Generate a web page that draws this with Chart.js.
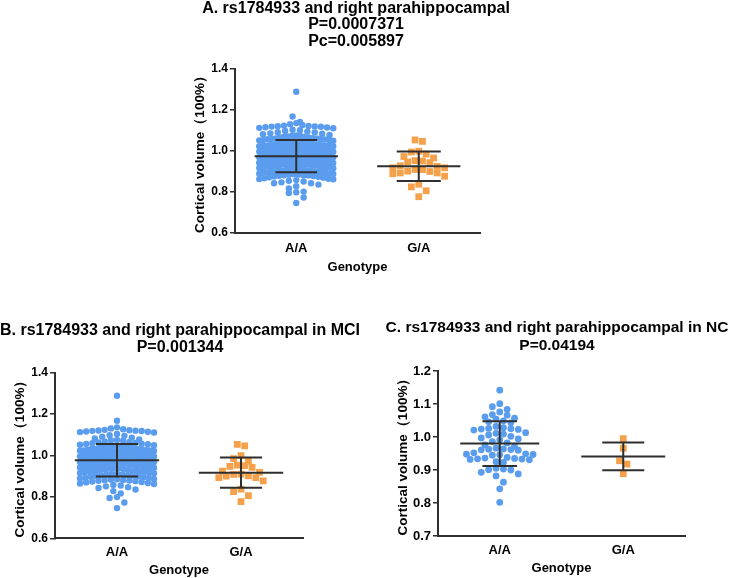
<!DOCTYPE html>
<html>
<head>
<meta charset="utf-8">
<script src="https://cdn.jsdelivr.net/npm/chart.js@4.4.0/dist/chart.umd.min.js"></script>
<style>
	body { margin: 0; background: #fff; }
	#wrap { position: relative; width: 731px; height: 578px; overflow: hidden; background: #fff; }
	#wrap canvas { position: absolute; }
</style>
</head>
<body>
<div id="wrap">
	<canvas id="chartA" width="352" height="280" style="left:180px; top:0px;"></canvas>
	<canvas id="chartB" width="360" height="268" style="left:0px; top:310px;"></canvas>
	<canvas id="chartC" width="348" height="268" style="left:383px; top:310px;"></canvas>
</div>
<script>
var genotypes = ['A/A', 'G/A'];

// B. MCI subjects
var mciAA = [
	1.289, 1.168, 1.136, 1.131, 1.127,
	1.124, 1.122, 1.121, 1.12, 1.119, 1.118, 1.116, 1.115, 1.113, 1.111,
	1.104, 1.098, 1.095, 1.091, 1.086, 1.082,
	1.078, 1.075, 1.074, 1.071, 1.068, 1.066, 1.063, 1.061,
	1.059, 1.057, 1.056, 1.054, 1.052, 1.05, 1.048, 1.047, 1.045, 1.043, 1.042, 1.041,
	1.039, 1.038, 1.036, 1.035, 1.034, 1.032, 1.031, 1.03, 1.028, 1.027, 1.026, 1.025, 1.024, 1.023, 1.022, 1.021,
	1.019, 1.018, 1.017, 1.016, 1.015, 1.014, 1.012, 1.011, 1.01, 1.009, 1.008, 1.006, 1.005, 1.004, 1.003, 1.002, 1.001,
	0.999, 0.998, 0.997, 0.996, 0.995, 0.994, 0.992, 0.991, 0.99, 0.989, 0.988, 0.987, 0.986, 0.985, 0.984, 0.982, 0.981,
	0.979, 0.978, 0.977, 0.976, 0.975, 0.974, 0.973, 0.972, 0.97, 0.969, 0.968, 0.967, 0.966, 0.965, 0.963, 0.962, 0.961,
	0.959, 0.958, 0.957, 0.956, 0.954, 0.953, 0.952, 0.951, 0.949, 0.948, 0.947, 0.946, 0.944, 0.943, 0.942, 0.941,
	0.939, 0.938, 0.936, 0.935, 0.934, 0.932, 0.931, 0.929, 0.928, 0.926, 0.925, 0.923, 0.922, 0.921,
	0.919, 0.917, 0.916, 0.914, 0.912, 0.911, 0.909, 0.907, 0.906, 0.904, 0.903, 0.901,
	0.899, 0.897, 0.895, 0.893, 0.891, 0.889, 0.887, 0.885, 0.884, 0.882, 0.881,
	0.879, 0.878, 0.876, 0.874, 0.872, 0.87, 0.867, 0.865, 0.862,
	0.858, 0.855, 0.851, 0.847, 0.843,
	0.836, 0.828, 0.817, 0.799, 0.795, 0.773, 0.746
];
var mciGA = [
	1.054, 1.047, 0.999, 0.985, 0.973, 0.953, 0.951, 0.947, 0.943, 0.925, 0.918,
	0.91, 0.909, 0.902, 0.9, 0.893, 0.893, 0.877, 0.838, 0.825, 0.806, 0.777
];
var mciMean = [0.977, 0.917];
var mciSD = [0.079, 0.073];

// C. NC subjects
var ncAA = [
	1.142, 1.101, 1.092, 1.084, 1.076,
	1.068, 1.066, 1.061, 1.057, 1.054, 1.049, 1.046, 1.043,
	1.032, 1.028, 1.026, 1.025, 1.024, 1.023, 1.021,
	1.013, 1.011, 1.009, 1.006, 1.002, 0.997, 0.994, 0.991, 0.986, 0.982,
	0.976, 0.972, 0.966, 0.964, 0.963, 0.962, 0.961, 0.96,
	0.952, 0.949, 0.948, 0.947, 0.946, 0.945,
	0.938, 0.936, 0.935, 0.934, 0.933, 0.932, 0.931, 0.925, 0.923,
	0.905, 0.903, 0.901, 0.9, 0.893, 0.888, 0.882, 0.863, 0.843, 0.802
];
var ncGA = [0.995, 0.966, 0.928, 0.918, 0.889];
var ncMean = [0.980, 0.941];
var ncSD = [0.068, 0.042];

// A. all subjects (MCI + NC)
var allAA = mciAA.concat(ncAA);
var allGA = mciGA.concat(ncGA);
var allMean = [0.975, 0.926];
var allSD = [0.079, 0.072];

var ticksAB = [0.6, 0.8, 1.0, 1.2, 1.4];
var ticksC = [0.7, 0.8, 0.9, 1.0, 1.1, 1.2];

var FONT = "'Liberation Sans', Arial, sans-serif";
var BLUE = '#5a9cee';
var ORANGE = '#f5a14b';
var LINE = '#2f2f2f';

// mean +/- SD bars drawn over the dots
var errorBars = {
	id: 'errorBars',
	afterDatasetsDraw: function (chart, args, opts) {
		var ctx = chart.ctx, xs = chart.scales.x, ys = chart.scales.y;
		ctx.save();
		ctx.strokeStyle = LINE;
		ctx.lineWidth = 2;
		for (var i = 0; i < opts.means.length; i++) {
			var m = opts.means[i], sd = opts.sds[i];
			var cx = xs.getPixelForValue(i);
			var mw = xs.getPixelForValue(i + opts.meanHalf[i]) - cx;
			var cw = xs.getPixelForValue(i + opts.capHalf[i]) - cx;
			var ym = ys.getPixelForValue(m), yt = ys.getPixelForValue(m + sd), yb = ys.getPixelForValue(m - sd);
			ctx.beginPath();
			ctx.moveTo(cx - mw, ym); ctx.lineTo(cx + mw, ym);
			ctx.moveTo(cx - cw, yt); ctx.lineTo(cx + cw, yt);
			ctx.moveTo(cx - cw, yb); ctx.lineTo(cx + cw, yb);
			ctx.moveTo(cx, yt); ctx.lineTo(cx, yb);
			ctx.stroke();
		}
		ctx.restore();
	}
};

var panel = {
	startUp: function () {
		panel.build('chartA', {
			title: ['A. rs1784933 and right parahippocampal', 'P=0.0007371', 'Pc=0.005897'],
			titleSize: 16, titleLH: '16.5px', titleTop: 0, titleBottom: 19.5,
			aa: allAA, ga: allGA, mean: allMean, sd: allSD,
			meanHalf: [0.34, 0.34], capHalf: [0.17, 0.18],
			min: 0.6, max: 1.4, yTicks: ticksAB, yTickSize: 12,
			padRight: 52, xHeight: 47, xTickPad: 8, xTitlePad: 5, dot: 3.2,
			rows: [5.5, 7.5]
		});
		panel.build('chartB', {
			title: ['B. rs1784933 and right parahippocampal in MCI', 'P=0.001344'],
			titleSize: 16, titleLH: '16.7px', titleTop: 12.6, titleBottom: 16.7,
			aa: mciAA, ga: mciGA, mean: mciMean, sd: mciSD,
			meanHalf: [0.34, 0.34], capHalf: [0.17, 0.17],
			min: 0.6, max: 1.4, yTicks: ticksAB, yTickSize: 12,
			padRight: 57, xHeight: 39.7, xTickPad: 6.5, xTitlePad: 0, dot: 3.2,
			rows: [5.5, 7.5]
		});
		panel.build('chartC', {
			title: ['C. rs1784933 and right parahippocampal in NC', 'P=0.04194'],
			titleSize: 15.5, titleLH: '17.3px', titleTop: 9.3, titleBottom: 17.1,
			aa: ncAA, ga: ncGA, mean: ncMean, sd: ncSD,
			meanHalf: [0.32, 0.34], capHalf: [0.14, 0.17],
			min: 0.7, max: 1.2, yTicks: ticksC, yTickSize: 13,
			padRight: 46, xHeight: 42, xTickPad: 6.5, xTitlePad: 1.5, dot: 3.4,
			rows: [6.3, 7.5]
		});
	}, // end - startUp

	build: function (id, p) {
		var chart = new Chart(id, {
			type: 'scatter',
			data: {
				datasets: [{
					data: p.aa.map(function (v) { return { x: 0, y: v }; }),
					pointStyle: 'circle',
					pointRadius: p.dot,
					backgroundColor: BLUE,
					borderWidth: 0
				}, {
					data: p.ga.map(function (v) { return { x: 1, y: v }; }),
					pointStyle: 'rect',
					pointRadius: 4.8,
					backgroundColor: ORANGE,
					borderWidth: 0
				}]
			},
			options: {
				responsive: false,
				animation: false,
				events: [],
				layout: { padding: 0 },
				plugins: {
					legend: { display: false },
					tooltip: { enabled: false },
					title: {
						display: true,
						text: p.title,
						color: '#000',
						font: { family: FONT, size: p.titleSize, weight: 'bold', lineHeight: p.titleLH },
						padding: { top: p.titleTop, bottom: p.titleBottom }
					},
					errorBars: { means: p.mean, sds: p.sd, meanHalf: p.meanHalf, capHalf: p.capHalf }
				},
				scales: {
					x: {
						type: 'linear',
						min: -0.5,
						max: 1.5,
						afterBuildTicks: function (s) {
							s.ticks = genotypes.map(function (g, i) { return { value: i }; });
						},
						afterFit: function (s) { s.height = p.xHeight; },
						ticks: {
							callback: function (v) { return genotypes[v]; },
							color: '#000',
							font: { family: FONT, size: 13, weight: 'bold' },
							padding: p.xTickPad,
							maxRotation: 0,
							autoSkip: false
						},
						grid: { display: false, drawTicks: false },
						border: { display: true, color: LINE, width: 2 },
						title: {
							display: true,
							text: 'Genotype',
							color: '#000',
							font: { family: FONT, size: 13, weight: 'bold' },
							padding: { top: 0, bottom: p.xTitlePad }
						}
					},
					y: {
						min: p.min,
						max: p.max,
						afterBuildTicks: function (s) {
							s.ticks = p.yTicks.map(function (v) { return { value: v }; });
						},
						afterFit: function (s) { s.width = 55; },
						ticks: {
							callback: function (v) { return v.toFixed(1); },
							color: '#000',
							font: { family: FONT, size: p.yTickSize, weight: 'bold' },
							padding: 2
						},
						grid: { drawOnChartArea: false, drawTicks: true, tickLength: 5, color: LINE, lineWidth: 1.5 },
						border: { display: true, color: LINE, width: 2 },
						title: {
							display: true,
							text: 'Cortical volume（100%）',
							color: '#000',
							font: { family: FONT, size: 13.5, weight: 'bold' },
							padding: { top: 12, bottom: 0 }
						}
					},
					// empty right-hand box: keeps the plot narrow while the title uses the full width
					pad: {
						position: 'right',
						display: true,
						afterFit: function (s) { s.width = p.padRight; },
						ticks: { display: false },
						grid: { display: false, drawTicks: false },
						border: { display: false }
					}
				}
			},
			plugins: [errorBars]
		});

		chart.data.datasets[0].data = panel.swarm(p.aa, 0, chart, p.rows[0]);
		chart.data.datasets[1].data = panel.swarm(p.ga, 1, chart, p.rows[1]);
		chart.update('none');
	}, // end - build

	// spread the dots of one group sideways, row by row, like a dot plot
	swarm: function (values, cat, chart, rowPx) {
		var xs = chart.scales.x, ys = chart.scales.y;
		var pxPerCat = xs.getPixelForValue(1) - xs.getPixelForValue(0);
		var pxPerUnit = (ys.getPixelForValue(ys.min) - ys.getPixelForValue(ys.max)) / (ys.max - ys.min);
		var rowH = rowPx / pxPerUnit;
		var dotPx = 7.4, maxHalf = 37;

		var sorted = values.slice().sort(function (a, b) { return b - a; });
		var rows = [], row = [];
		for (var i = 0; i < sorted.length; i++) {
			if (row.length && row[0] - sorted[i] >= rowH) {
				rows.push(row);
				row = [];
			}
			row.push(sorted[i]);
		}
		if (row.length) rows.push(row);

		var out = [];
		rows.forEach(function (r) {
			var n = r.length;
			var step = n > 1 ? Math.min(dotPx, 2 * maxHalf / (n - 1)) : 0;
			for (var k = 0; k < n; k++) {
				var slot;
				if (n % 2) {
					slot = k === 0 ? 0 : (k % 2 ? -1 : 1) * Math.ceil(k / 2);
				} else {
					slot = (k % 2 ? 1 : -1) * (Math.floor(k / 2) + 0.5);
				}
				out.push({ x: cat + slot * step / pxPerCat, y: r[k] });
			}
		});
		return out;
	} // end - swarm
};

panel.startUp();
</script>
</body>
</html>
